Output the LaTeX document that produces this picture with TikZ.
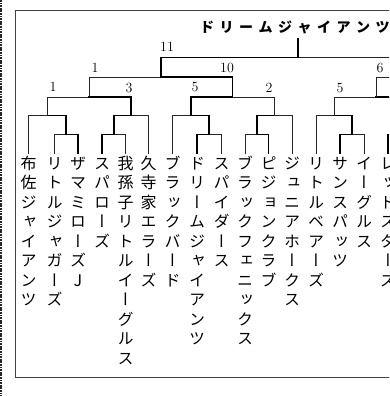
\documentclass[tikz,border=0pt]{standalone}
\usepackage{fontspec}
\newfontfamily\jp{Noto Sans CJK JP}
\newfontfamily\jpv[RawFeature=+vert]{Noto Sans CJK JP}
\makeatletter
% one character per line (vertical names), fixed pitch
\newcommand\tate[1]{\vbox{\offinterlineskip\@tfor\tc:=#1\do{\hbox to 16pt{\hss\tc\hss\vrule height 15.75pt depth 3.75pt width 0pt}}}}
% spaced-out horizontal title
\newcommand\yoko[1]{\@tfor\tc:=#1\do{\hbox to 19.5pt{\hss\tc\hss}}}
\makeatother
\tikzset{
  team/.style={anchor=north, inner sep=0pt, font=\jpv\fontsize{16}{19.5}\selectfont},
  score/.style={inner sep=0pt, font=\fontsize{14}{14}\selectfont},
  win/.style={line width=1.6pt, line cap=rect},
  lose/.style={line width=0.8pt, line cap=rect, black!85},
  boxline/.style={line width=0.8pt, black!75}
}
\begin{document}
\begin{tikzpicture}[x=1pt, y=-1pt]
\path[use as bounding box] (0,0) rectangle (389,396);
\clip (0,0) rectangle (389,396);

% paper edge and frame
\draw[line width=1.6pt, dash pattern=on 1.8pt off 0.8pt, black!85] (1.2,0) -- (1.2,396);
\draw[boxline] (400,10.5) -| (15.5,377) -- (400,377);

% champion
\node[anchor=west, inner xsep=0pt, inner ysep=5pt, font=\jp\bfseries\fontsize{14}{14}\selectfont] (title) at (197.25,27) {\yoko{ドリームジャイアンツ}};

% teams
\node[team] (L1) at (28.5,153.5) {\tate{布佐ジャイアンツ}};
\node[team] (L2) at (54.5,153.5) {\tate{リトルジャガーズ}};
\node[team] (L3) at (78,153.5) {\tate{ザマミローズJ}};
\node[team] (L4) at (102,153.5) {\tate{スパローズ}};
\node[team] (L5) at (125.5,153.5) {\tate{我孫子リトルイーグルス}};
\node[team] (L6) at (148.5,153.5) {\tate{久寺家エラーズ}};
\node[team] (L7) at (172.5,153.5) {\tate{ブラックバード}};
\node[team] (L8) at (197,153.5) {\tate{ドリームジャイアンツ}};
\node[team] (L9) at (221.5,153.5) {\tate{スパイダース}};
\node[team] (L10) at (245,153.5) {\tate{ブラックフェニックス}};
\node[team] (L11) at (268.5,153.5) {\tate{ピジョンクラブ}};
\node[team] (L12) at (292,153.5) {\tate{ジュニアホークス}};
\node[team] (L13) at (316,153.5) {\tate{リトルベアーズ}};
\node[team] (L14) at (340,153.5) {\tate{サンスパッツ}};
\node[team] (L15) at (364,153.5) {\tate{イーグルス}};
\node[team] (L16) at (388,153.5) {\tate{レッドスターズ}};

% match points
\coordinate (m1) at (66.25,134.5);
\coordinate (m2) at (47.4,115.5);
\coordinate (m3) at (113.75,134.5);
\coordinate (m4) at (131.1,115.5);
\coordinate (m5) at (89.25,97);
\coordinate (m6) at (209.25,134.5);
\coordinate (m7) at (190.9,115.5);
\coordinate (m8) at (256.75,134.5);
\coordinate (m9) at (274.4,115.5);
\coordinate (m10) at (232.6,97);
\coordinate (m11) at (160.9,77);
\coordinate (m12) at (352,134.5);
\coordinate (m13) at (334,115.5);
\coordinate (m16) at (400,134.5);
\coordinate (m17) at (418,115.5);
\coordinate (m14) at (376,97);
\coordinate (m15) at (435.1,77);
\coordinate (fin) at (298,57.5);

% bracket
\draw[lose] (m1) -| (L2.north);
\draw[win] (m1) -| (L3.north);
\draw[lose] (m2) -| (L1.north);
\draw[win] (m2) -| (m1);
\draw[win] (m3) -| (L4.north);
\draw[lose] (m3) -| (L5.north);
\draw[win] (m4) -| (m3);
\draw[lose] (m4) -| (L6.north);
\draw[lose] (m5) -| (m2);
\draw[win] (m5) -| (m4);
\draw[win] (m6) -| (L8.north);
\draw[lose] (m6) -| (L9.north);
\draw[lose] (m7) -| (L7.north);
\draw[win] (m7) -| (m6);
\draw[lose] (m8) -| (L10.north);
\draw[win] (m8) -| (L11.north);
\draw[win] (m9) -| (m8);
\draw[lose] (m9) -| (L12.north);
\draw[win] (m10) -| (m7);
\draw[lose] (m10) -| (m9);
\draw[lose] (m11) -| (m5);
\draw[win] (m11) -| (m10);
\draw[win] (m12) -| (L14.north);
\draw[lose] (m12) -| (L15.north);
\draw[lose] (m13) -| (L13.north);
\draw[win] (m13) -| (m12);
\draw[win] (m16) -| (L16.north);
\draw[lose] (m14) -| (m13);
\draw[win] (m14) -| (m17);
\draw[lose] (m15) -| (m14);
\draw[win] (fin) -| (m11);
\draw[lose] (fin) -| (m15);
\draw[win] (fin) -- (fin |- title.south);

% scores
\node[score] (s11) at (167,47) {11};
\node[score] (s5a) at (95,68) {1};
\node[score] (s10) at (227,68) {10};
\node[score] (s2a) at (53,87) {1};
\node[score] (s4) at (129,88) {3};
\node[score] (s7) at (195,87) {5};
\node[score] (s9) at (269,88) {2};
\node[score] (s13) at (340,88) {5};
\node[score] (s14) at (380,68) {6};
\end{tikzpicture}
\end{document}
